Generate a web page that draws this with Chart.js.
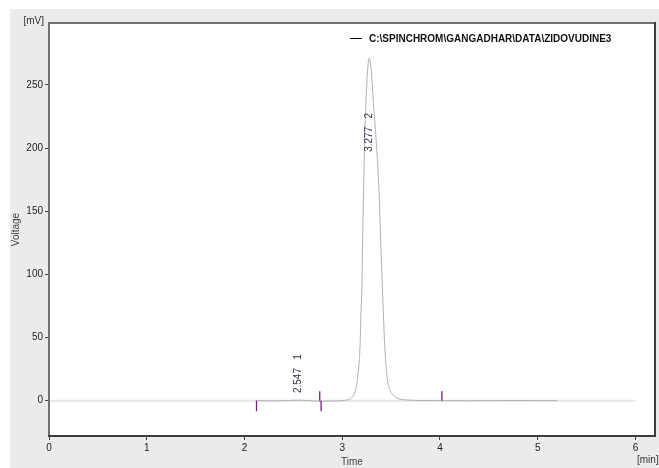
<!DOCTYPE html>
<html>
<head>
<meta charset="utf-8">
<script src="https://cdn.jsdelivr.net/npm/chart.js@4"></script>
<style>
  html, body { margin: 0; padding: 0; background: #fff; }
  #wrap { position: absolute; left: 0; top: 0; width: 659px; height: 468px; }
</style>
</head>
<body>
<div id="wrap"><canvas id="myChart" width="659" height="468"></canvas></div>
<script>
// chromatogram data
const fileName = 'C:\\SPINCHROM\\GANGADHAR\\DATA\\ZIDOVUDINE3';
const times = [2.12, 2.30, 2.45, 2.55, 2.65, 2.78, 2.90, 3.00, 3.05, 3.094, 3.13, 3.155, 3.172, 3.182, 3.192, 3.203, 3.207, 3.220, 3.237, 3.277,
  3.329, 3.373, 3.397, 3.409, 3.421, 3.435, 3.450, 3.462, 3.49, 3.519, 3.56, 3.605, 3.70, 3.85, 4.02, 4.25, 4.50, 4.80, 5.00, 5.20];
const volts = [0.0, -0.2, 0.1, 0.4, 0.0, -0.5, -0.3, 0.0, 0.6, 1.9, 7, 16.4, 30, 42.8, 69.5, 95.7, 119, 172, 225, 271,
  225, 172, 119, 94, 69.5, 42.8, 26, 16.4, 8, 4.5, 2, 1.0, 0.3, 0.1, 0.0, -0.1, 0.0, 0.1, 0.0, 0.0];
const zeroTimes = [0, 6];
const zeroVolts = [0, 0];
const markTimes = [2.123, 2.770, 2.784, 4.020];
const markEnds = [-8.5, 7.5, -8.5, 7.5];
const peakTimes = [2.547, 3.277];
const peakNums = [1, 2];
const peakLabelAt = [6, 197];
const xTicks = [0, 1, 2, 3, 4, 5, 6];
const yTicks = [0, 50, 100, 150, 200, 250];

const fontFamily = '"Liberation Sans", Arial, sans-serif';

const signal = times.map((t, i) => ({x: t, y: volts[i]}));
const zeroLine = zeroTimes.map((t, i) => ({x: t, y: zeroVolts[i]}));

const datasets = [{
  label: fileName,
  data: signal,
  borderColor: '#b2b2b2',
  borderWidth: 1,
  showLine: true,
  pointRadius: 0,
  cubicInterpolationMode: 'monotone',
  order: 1
}];
markTimes.forEach((t, i) => {
  datasets.push({
    label: 'mark' + i,
    data: [{x: t, y: 0}, {x: t, y: markEnds[i]}],
    borderColor: '#74207a',
    borderWidth: 1.3,
    showLine: true,
    pointRadius: 0,
    order: 0
  });
});
datasets.push({
  label: 'zero',
  data: zeroLine,
  borderColor: '#e6e6e6',
  borderWidth: 2,
  showLine: true,
  pointRadius: 0,
  order: 5
});

const panel = {
  id: 'panel',
  beforeDraw(chart) {
    const {ctx, chartArea: a} = chart;
    ctx.save();
    ctx.fillStyle = '#ffffff';
    ctx.fillRect(0, 0, chart.width, chart.height);
    ctx.fillStyle = '#ebebeb';
    ctx.fillRect(10, 9, chart.width - 10, chart.height - 9);
    ctx.fillStyle = '#ffffff';
    ctx.fillRect(a.left, a.top, a.right - a.left, a.bottom - a.top);
    ctx.restore();
  },
  afterDatasetsDraw(chart) {
    const {ctx, chartArea: a, scales} = chart;
    ctx.save();
    // frame
    ctx.fillStyle = '#707070';
    ctx.fillRect(a.left - 1, a.top - 1, 2, a.bottom - a.top + 2);
    ctx.fillRect(a.left - 1, a.top - 1, a.right - a.left + 2, 2);
    ctx.fillStyle = '#3c3c3c';
    ctx.fillRect(a.right - 1, a.top - 1, 2, a.bottom - a.top + 2);
    ctx.fillRect(a.left - 1, a.bottom - 1, a.right - a.left + 2, 2);

    // peak labels
    ctx.fillStyle = '#3a3050';
    ctx.font = '10px ' + fontFamily;
    ctx.textAlign = 'left';
    ctx.textBaseline = 'middle';
    peakTimes.forEach((t, i) => {
      const x = scales.x.getPixelForValue(t);
      const y = scales.y.getPixelForValue(peakLabelAt[i]);
      ctx.save();
      ctx.translate(x, y);
      ctx.rotate(-Math.PI / 2);
      ctx.fillText(t.toFixed(3) + '   ' + peakNums[i], 0, 0);
      ctx.restore();
    });

    // legend
    ctx.strokeStyle = '#000';
    ctx.lineWidth = 1;
    ctx.beginPath();
    ctx.moveTo(350, 38.5);
    ctx.lineTo(362, 38.5);
    ctx.stroke();
    ctx.fillStyle = '#111';
    ctx.font = 'bold 10px ' + fontFamily;
    ctx.fillText(fileName, 369, 39);

    // units
    ctx.fillStyle = '#333';
    ctx.font = '10px ' + fontFamily;
    ctx.textAlign = 'right';
    ctx.fillText('[mV]', 44, 21);
    ctx.textAlign = 'left';
    ctx.fillText('[min]', 637, 460);
    ctx.restore();
  }
};

new Chart(document.getElementById('myChart'), {
  type: 'scatter',
  data: {datasets: datasets},
  options: {
    responsive: false,
    devicePixelRatio: 1,
    animation: false,
    layout: {padding: {top: 23, right: 4, bottom: 0, left: 0}},
    plugins: {legend: {display: false}, tooltip: {enabled: false}},
    scales: {
      x: {
        type: 'linear',
        min: 0,
        max: 6.2,
        afterBuildTicks: s => { s.ticks = xTicks.map(v => ({value: v})); },
        afterFit: s => { s.height = 32; },
        border: {display: false},
        grid: {drawOnChartArea: false, drawTicks: true, tickLength: 4, color: '#444'},
        ticks: {padding: 2, color: '#222', font: {family: fontFamily, size: 10}, maxRotation: 0},
        title: {display: true, text: 'Time', color: '#444', padding: {top: 0, bottom: 0}, font: {family: fontFamily, size: 10}}
      },
      y: {
        type: 'linear',
        min: -28,
        max: 299,
        afterBuildTicks: s => { s.ticks = yTicks.map(v => ({value: v})); },
        afterFit: s => { s.width = 49; },
        border: {display: false},
        grid: {drawOnChartArea: false, drawTicks: true, tickLength: 4, color: '#444'},
        ticks: {padding: 2, color: '#222', font: {family: fontFamily, size: 10}},
        title: {display: true, text: 'Voltage', color: '#444', padding: {top: 10, bottom: 0}, font: {family: fontFamily, size: 10}}
      }
    }
  },
  plugins: [panel]
});
</script>
</body>
</html>
